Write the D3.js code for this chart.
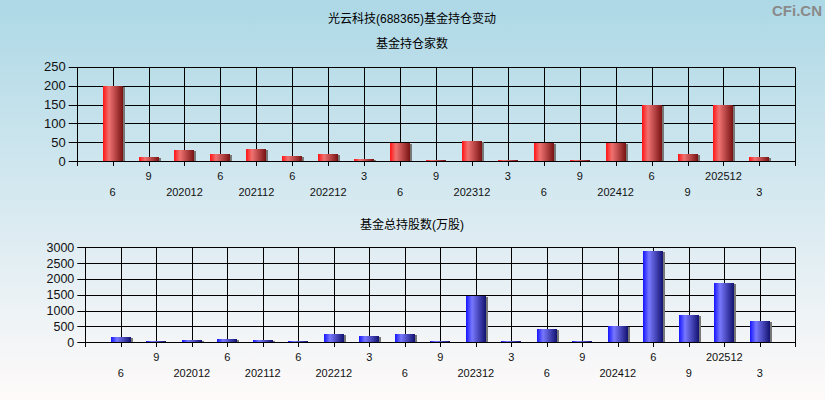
<!DOCTYPE html>
<html><head><meta charset="utf-8">
<script src="https://cdn.jsdelivr.net/npm/d3@7"></script>
<style>
html,body{margin:0;padding:0;overflow:hidden;}
svg{display:block;}
text{font-family:"Liberation Sans","Noto Sans CJK SC",sans-serif;}
</style></head>
<body>
<script>
// ---- data ----
const categories = ["2020-06","2020-09","2020-12","2021-06","2021-12","2022-06","2022-12","2023-03","2023-06","2023-09","2023-12","2024-03","2024-06","2024-09","2024-12","2025-06","2025-09","2025-12","2026-03"];
const tickLabels = ["6","9","202012","6","202112","6","202212","3","6","9","202312","3","6","9","202412","6","9","202512","3"];
const fundCount = [200,11,30,19,32,14,19,6,49,3,53,3,49,3,49,150,19,150,11];
const fundShares = [170,40,70,100,70,40,260,200,260,40,1460,40,430,40,500,2880,860,1870,670];
const countTicks = [0,50,100,150,200,250];
const shareTicks = [0,500,1000,1500,2000,2500,3000];

const W = 825, H = 400;
const svg = d3.select("body").append("svg").attr("width", W).attr("height", H);
const defs = svg.append("defs");

const bg = defs.append("linearGradient").attr("id","bg").attr("x1",0).attr("y1",0).attr("x2",0).attr("y2",1);
bg.append("stop").attr("offset","0%").attr("stop-color","#add8e6");
bg.append("stop").attr("offset","100%").attr("stop-color","#fffafa");
svg.append("rect").attr("width",W).attr("height",H).attr("fill","url(#bg)");

function barGrad(id, c0, c1, c2) {
  const g = defs.append("linearGradient").attr("id", id).attr("x1",0).attr("y1",0).attr("x2",1).attr("y2",0);
  g.append("stop").attr("offset","0%").attr("stop-color",c0);
  g.append("stop").attr("offset","30%").attr("stop-color",c1);
  g.append("stop").attr("offset","100%").attr("stop-color",c2);
}
barGrad("gRed", "#ff1414", "#f07272", "#781212");
barGrad("gBlue", "#1414ff", "#7878ff", "#121270");

// titles
svg.append("text").attr("x",412).attr("y",23).attr("text-anchor","middle").attr("font-size",12).attr("fill","#000").text("光云科技(688365)基金持仓变动");
svg.append("text").attr("x",412).attr("y",48).attr("text-anchor","middle").attr("font-size",12).attr("fill","#000").text("基金持仓家数");
svg.append("text").attr("x",412).attr("y",229).attr("text-anchor","middle").attr("font-size",12).attr("fill","#000").text("基金总持股数(万股)");
svg.append("text").attr("x",822).attr("y",16).attr("text-anchor","end").attr("font-size",15).attr("font-weight","bold").attr("fill","#8a8a8a").text("CFi.CN");

function panel(opt) {
  const {left, right, top, bottom, values, ticks, grad, ylabFont, rowY} = opt;
  const n = values.length;
  const x = d3.scaleLinear().domain([0, n + 1]).range([left, right]);
  const y = d3.scaleLinear().domain([0, d3.max(ticks)]).range([bottom, top]);
  const g = svg.append("g");

  // horizontal grid
  g.selectAll(".hg").data(ticks).join("line")
    .attr("x1", left - 8).attr("x2", right)
    .attr("y1", d => Math.round(y(d)) + 0.5).attr("y2", d => Math.round(y(d)) + 0.5)
    .attr("stroke", "#000").attr("stroke-width", 1);
  // vertical grid (incl. frame)
  const vIdx = d3.range(0, n + 2);
  g.selectAll(".vg").data(vIdx).join("line")
    .attr("x1", d => Math.round(x(d)) + 0.5).attr("x2", d => Math.round(x(d)) + 0.5)
    .attr("y1", Math.round(y(d3.max(ticks))) + 0.5).attr("y2", Math.round(bottom) + 5)
    .attr("stroke", "#000").attr("stroke-width", 1);

  // y labels
  g.selectAll(".yl").data(ticks).join("text")
    .attr("x", left - 11).attr("y", d => y(d)).attr("dy", "0.36em")
    .attr("text-anchor", "end").attr("font-size", ylabFont).attr("fill", "#111")
    .text(d => d);

  // bars
  const bw = 20;
  const bars = g.selectAll(".bar").data(values).join("g");
  bars.append("rect")
    .attr("x", (d, i) => Math.round(x(i + 1)) - bw / 2 + 2)
    .attr("y", d => Math.round(y(d)) + 1)
    .attr("width", bw).attr("height", d => Math.max(0, Math.round(bottom) - Math.round(y(d)) - 1))
    .attr("fill", "#777");
  bars.append("rect")
    .attr("x", (d, i) => Math.round(x(i + 1)) - bw / 2)
    .attr("y", d => Math.round(y(d)))
    .attr("width", bw).attr("height", d => Math.max(1, Math.round(bottom) - Math.round(y(d))))
    .attr("fill", `url(#${grad})`);

  // x labels alternate rows
  g.selectAll(".xl").data(tickLabels).join("text")
    .attr("x", (d, i) => x(i + 1))
    .attr("y", (d, i) => (i % 2 === 0 ? rowY[1] : rowY[0]))
    .attr("text-anchor", "middle").attr("font-size", 11).attr("fill", "#111")
    .text(d => d);
}

panel({left: 76.7, right: 795.3, top: 66.7, bottom: 161.3, values: fundCount, ticks: countTicks, grad: "gRed", ylabFont: 13, rowY: [180, 196]});
panel({left: 85.3, right: 795.3, top: 247.3, bottom: 342.3, values: fundShares, ticks: shareTicks, grad: "gBlue", ylabFont: 12.5, rowY: [361, 377]});
</script>
</body></html>
